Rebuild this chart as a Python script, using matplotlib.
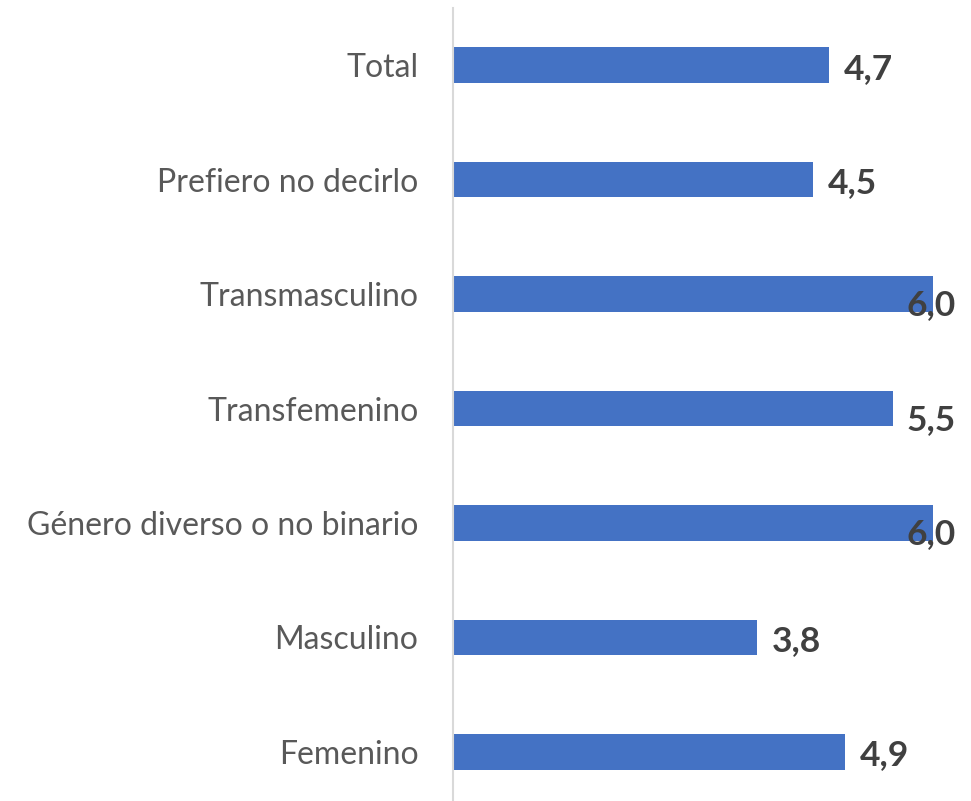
import matplotlib
matplotlib.use("Agg")
from matplotlib import pyplot as plt

categories = ["Femenino", "Masculino", "Género diverso o no binario",
              "Transfemenino", "Transmasculino", "Prefiero no decirlo", "Total"]
values = [4.9, 3.8, 6.0, 5.5, 6.0, 4.5, 4.7]
value_labels = ["4,9", "3,8", "6,0", "5,5", "6,0", "4,5", "4,7"]

plt.rcParams['font.family'] = ['Lato', 'DejaVu Sans']

fig = plt.figure(figsize=(9.71, 8.01), dpi=100)
ax = fig.add_axes([453 / 971, -8 / 801, 480 / 971, 801 / 801])

y = range(len(categories))
ax.barh(y, values, height=0.31, color="#4472C4")

# Excel pulls labels that would run off the chart back inside
for i, (v, lab) in enumerate(zip(values, value_labels)):
    x = v + 0.18
    dy = 0.0
    if x > 5.67:
        x = 5.67
        dy = -0.07
    ax.text(x, i - 0.03 + dy, lab, ha="left", va="center", fontsize=25.5,
            fontweight="bold", color="#404040")

ax.set_xlim(0, 6)
ax.set_ylim(-0.5, len(categories) - 0.5)
ax.set_yticks(list(y))
ax.set_yticklabels(categories, fontsize=23, color="#595959")
ax.tick_params(axis="y", length=0, pad=25)
ax.set_xticks([])
for side in ["top", "right", "bottom"]:
    ax.spines[side].set_visible(False)
ax.spines["left"].set_color("#D9D9D9")
ax.spines["left"].set_linewidth(1.5)
ax.patch.set_alpha(0)

fig.savefig("out.png", dpi=100)
